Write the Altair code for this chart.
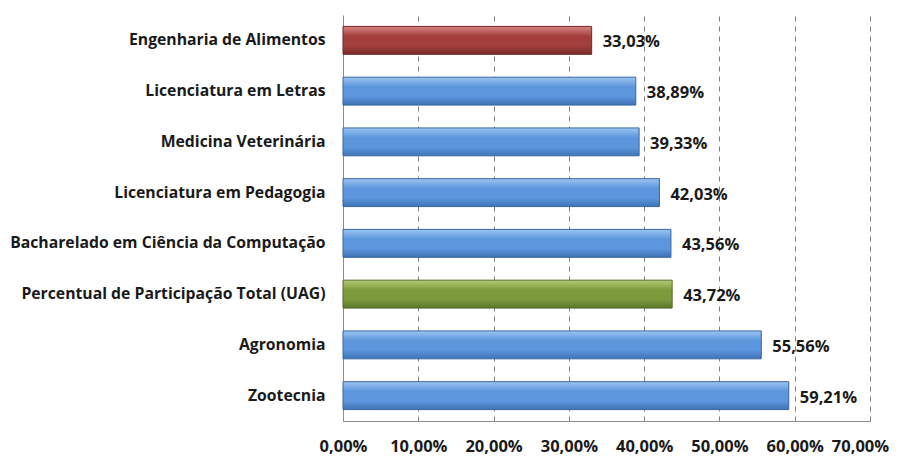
import altair as alt
import pandas as pd

categories = [
    "Engenharia de Alimentos",
    "Licenciatura em Letras",
    "Medicina Veterinária",
    "Licenciatura em Pedagogia",
    "Bacharelado em Ciência da Computação",
    "Percentual de Participação Total (UAG)",
    "Agronomia",
    "Zootecnia",
]
values = [33.03, 38.89, 39.33, 42.03, 43.56, 43.72, 55.56, 59.21]
groups = ["red", "blue", "blue", "blue", "blue", "green", "blue", "blue"]
tick_values = [0, 10, 20, 30, 40, 50, 60, 70]

df = pd.DataFrame({"curso": categories, "pct": values, "grupo": groups})
df["rotulo"] = [f"{v:.2f}".replace(".", ",") + "%" for v in values]

FONT = "Open Sans"
FS_CAT = 15.75
FS_NUM = 16.5


def grad(top, mid, bottom):
    return alt.Gradient(
        gradient="linear",
        stops=[
            alt.GradientStop(color=top, offset=0),
            alt.GradientStop(color=mid, offset=0.35),
            alt.GradientStop(color=mid, offset=0.7),
            alt.GradientStop(color=bottom, offset=1),
        ],
        x1=0, x2=0, y1=0, y2=1,
    )


fills = {
    "red": (grad("#d98583", "#a23f3d", "#7a2c2b"), "#6e2726"),
    "blue": (grad("#9cc4f0", "#5c96dc", "#3f72b4"), "#3a67a3"),
    "green": (grad("#b2cc74", "#7c9b3c", "#5a7429"), "#546c27"),
}

y_enc = alt.Y(
    "curso:N",
    sort=categories,
    title=None,
    scale=alt.Scale(paddingInner=0.45, paddingOuter=0.225),
    axis=alt.Axis(
        labelFont=FONT, labelFontSize=FS_CAT, labelFontWeight="bold",
        labelColor="#1a1a1a", ticks=False, domainColor="#8c8c8c",
        labelPadding=18, labelLimit=400,
    ),
)
x_enc = alt.X(
    "pct:Q",
    title=None,
    scale=alt.Scale(domain=[0, 70], nice=False),
    axis=alt.Axis(
        values=tick_values,
        labelExpr="replace(format(datum.value,'.2f'),'.',',') + '%'",
        labelFlush=False,
        labelOffset={"condition": {"test": "datum.value == 70", "value": -10}, "value": 0},
        grid=True, gridDash=[5, 5], gridColor="#7f7f7f",
        ticks=False, domainColor="#8c8c8c",
        labelFont=FONT, labelFontSize=FS_NUM, labelFontWeight="bold",
        labelColor="#1a1a1a", labelPadding=17,
    ),
)

base = alt.Chart(df)
layers = []
for g, (fill, stroke) in fills.items():
    layers.append(
        base.transform_filter(alt.datum.grupo == g)
        .mark_bar(fill=fill, stroke=stroke, strokeWidth=1)
        .encode(x=x_enc, y=y_enc)
    )

text = base.mark_text(
    align="left", baseline="middle", dx=11, dy=2, font=FONT, fontSize=FS_NUM,
    fontWeight="bold", color="#1a1a1a",
).encode(x="pct:Q", y=alt.Y("curso:N", sort=categories), text="rotulo:N")

chart = (
    alt.layer(*layers, text)
    .properties(
        width=527, height=406,
        autosize=alt.AutoSizeParams(type="none"),
        padding={"left": 335, "top": 7, "right": 20, "bottom": 35},
        background="white",
    )
    .configure_view(stroke=None)
)

chart.save("out.html", embed_options={"renderer": "svg", "actions": False})
